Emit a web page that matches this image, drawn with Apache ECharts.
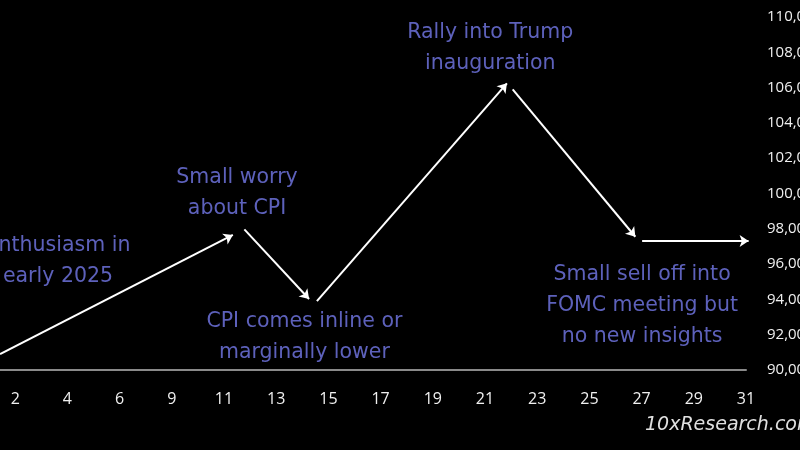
<!DOCTYPE html>
<html>
<head>
<meta charset="utf-8">
<script src="https://cdn.jsdelivr.net/npm/echarts@6/dist/echarts.min.js"></script>
<style>
html,body{margin:0;padding:0;background:#000;}
#chart{width:800px;height:450px;}
</style>
</head>
<body>
<div id="chart"></div>
<script>
// X-axis tick labels (January days), index positions 0..14
const xLabels = ['2','4','6','9','11','13','15','17','19','21','23','25','27','29','31'];
// Arrow segments (x in label-index units, y in USD)
const arrowStartX = [-0.29, 4.39, 5.78, 9.53, 12.01];
const arrowStartY = [90900, 97970, 93900, 105900, 97310];
const arrowEndX   = [4.17, 5.63, 9.42, 11.88, 14.05];
const arrowEndY   = [97650, 94020, 106240, 97550, 97310];
// Annotations
const noteText = [
  'Enthusiasm in\nearly 2025',
  'Small worry\nabout CPI',
  'CPI comes inline or\nmarginally lower',
  'Rally into Trump\ninauguration',
  'Small sell off into\nFOMC meeting but\nno new insights'
];
const noteX = [0.82, 4.25, 5.54, 9.10, 12.01];
const noteY = [96150, 100000, 91840, 108215, 93630];

const FONT = '"DejaVu Sans", sans-serif';
const AXFONT = '"Open Sans", sans-serif';
const chart = echarts.init(document.getElementById('chart'));
chart.setOption({
  backgroundColor: '#000',
  animation: false,
  grid: { left: -37, right: 54, top: 17, bottom: 80, containLabel: false, outerBoundsMode: 'none' },
  xAxis: {
    type: 'value', min: -1, max: 14, interval: 1,
    axisLine: { show: true, lineStyle: { color: '#8a8a8a', width: 2 } },
    axisTick: { show: false },
    splitLine: { show: false },
    axisLabel: {
      color: '#f0f0f0', fontSize: 16, fontFamily: AXFONT, margin: 21,
      formatter: v => (xLabels[v] !== undefined ? xLabels[v] : '')
    }
  },
  yAxis: {
    type: 'value', position: 'right', min: 90000, max: 110000, interval: 2000,
    axisLine: { show: false }, axisTick: { show: false }, splitLine: { show: false },
    axisLabel: { color: '#f0f0f0', fontSize: 15, fontFamily: AXFONT, margin: 21,
      formatter: v => v.toLocaleString('en-US') }
  },
  series: [
    {
      type: 'lines', coordinateSystem: 'cartesian2d', clip: false,
      symbol: ['none', 'arrow'], symbolSize: 9,
      lineStyle: { color: '#ffffff', width: 2, opacity: 1 },
      data: arrowStartX.map((x, i) => ({ coords: [[x, arrowStartY[i]], [arrowEndX[i], arrowEndY[i]]] }))
    },
    {
      type: 'scatter', clip: false, symbolSize: 1,
      itemStyle: { color: 'rgba(0,0,0,0)' },
      label: {
        show: true, position: 'inside', color: '#7479ea', fontSize: 20.5,
        fontFamily: FONT, lineHeight: 31, align: 'center', verticalAlign: 'middle',
        formatter: p => noteText[p.dataIndex]
      },
      data: noteX.map((x, i) => [x, noteY[i]])
    }
  ],
  graphic: [{
    type: 'text', left: 645, top: 416,
    style: { text: '10xResearch.com', fill: '#e0e0e0', font: 'italic 19px ' + FONT }
  }]
});
</script>
</body>
</html>
